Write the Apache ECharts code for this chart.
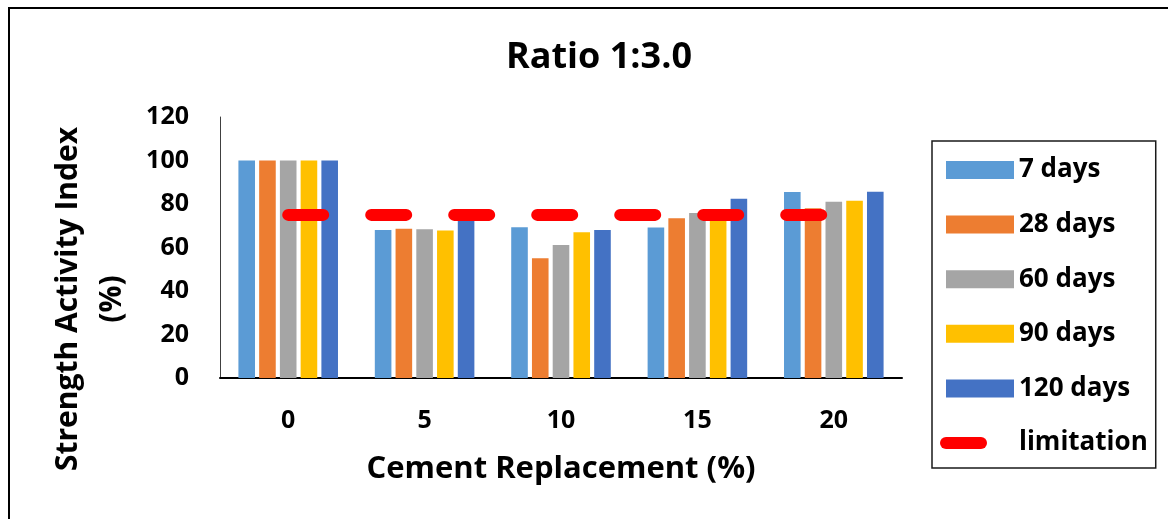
<!DOCTYPE html>
<html>
<head>
<meta charset="utf-8">
<title>Ratio 1:3.0</title>
<script src="https://cdn.jsdelivr.net/npm/echarts@6/dist/echarts.min.js"></script>
<style>
  html, body { margin: 0; padding: 0; background: #fff; }
  #chart { width: 1168px; height: 519px; }
</style>
</head>
<body>
<div id="chart"></div>
<script>
// Cement replacement levels (%)
const categories = ['0', '5', '10', '15', '20'];

// Strength activity index (%) by curing age
const days7   = [100, 68.1, 69.3, 69.2, 85.5];
const days28  = [100, 68.6, 55.1, 73.5, 78.1];
const days60  = [100, 68.4, 61.2, 75.9, 81.0];
const days90  = [100, 67.8, 67.0, 76.0, 81.5];
const days120 = [100, 75.0, 68.1, 82.4, 85.6];

// Minimum acceptable index
const limitation = [75, 75, 75, 75, 75];

const yTicks = { min: 0, max: 120, interval: 20 };

const FONT = '"Open Sans", "Noto Sans", sans-serif';

const barSeries = [
  { name: '7 days',   data: days7,   color: '#5B9BD5' },
  { name: '28 days',  data: days28,  color: '#ED7D31' },
  { name: '60 days',  data: days60,  color: '#A5A5A5' },
  { name: '90 days',  data: days90,  color: '#FFC000' },
  { name: '120 days', data: days120, color: '#4472C4' }
];

const chart = echarts.init(document.getElementById('chart'), null, { renderer: 'canvas' });

const series = barSeries.map(s => ({
  name: s.name,
  type: 'bar',
  data: s.data,
  barGap: '25%',
  barCategoryGap: '27%',
  itemStyle: { color: s.color },
  emphasis: { disabled: true }
}));

series.push({
  name: 'limitation',
  type: 'line',
  data: limitation,
  symbol: 'none',
  z: 5,
  itemStyle: { color: '#FF0000' },
  lineStyle: { color: '#FF0000', width: 12, type: [35, 48], cap: 'round' },
  emphasis: { disabled: true }
});

chart.setOption({
  animation: false,
  backgroundColor: '#ffffff',
  textStyle: { fontFamily: FONT },
  title: {
    text: 'Ratio 1:3.0',
    left: 594,
    top: 35,
    textAlign: 'center',
    textStyle: { fontFamily: FONT, fontWeight: 'bold', fontSize: 36, color: '#000' }
  },
  legend: {
    orient: 'vertical',
    left: 932,
    top: 141,
    padding: [16, 8, 12, 8],
    itemWidth: 68,
    itemHeight: 18,
    itemGap: 28.6,
    borderColor: '#1a1a1a',
    borderWidth: 1.5,
    lineStyle: { width: 12 },
    textStyle: { fontFamily: FONT, fontWeight: 'bold', fontSize: 26, color: '#000' },
    data: barSeries.map(s => ({ name: s.name, icon: 'rect' })).concat([{
      name: 'limitation',
      // only the dashed stroke is shown for this entry
      itemStyle: { color: 'rgba(0,0,0,0)', borderWidth: 0, opacity: 0 }
    }])
  },
  grid: { left: 220, top: 117, right: 266, bottom: 141, containLabel: false },
  xAxis: {
    type: 'category',
    data: categories,
    name: 'Cement Replacement (%)',
    nameLocation: 'middle',
    nameGap: 76,
    nameTextStyle: { fontFamily: FONT, fontWeight: 'bold', fontSize: 31, color: '#000' },
    axisLine: { show: true, lineStyle: { color: '#000', width: 2 } },
    axisTick: { show: false },
    axisLabel: { margin: 30, fontFamily: FONT, fontWeight: 'bold', fontSize: 25, color: '#000' },
    splitLine: { show: false }
  },
  yAxis: {
    type: 'value',
    min: yTicks.min,
    max: yTicks.max,
    interval: yTicks.interval,
    axisLine: { show: true, lineStyle: { color: '#404040', width: 1 } },
    axisTick: { show: false },
    axisLabel: { margin: 31, fontFamily: FONT, fontWeight: 'bold', fontSize: 25, color: '#000' },
    splitLine: { show: false }
  },
  graphic: [
    // frame along the top and left edges
    { type: 'line', shape: { x1: 8, y1: 8, x2: 1168, y2: 8 }, style: { stroke: '#000', lineWidth: 2 }, silent: true },
    { type: 'line', shape: { x1: 9, y1: 8, x2: 9, y2: 519 }, style: { stroke: '#000', lineWidth: 2 }, silent: true },
    // y axis title
    {
      type: 'text',
      x: 90,
      y: 299,
      rotation: Math.PI / 2,
      silent: true,
      style: {
        text: 'Strength Activity Index\n(%)',
        fontFamily: FONT,
        fontWeight: 'bold',
        fontSize: 30,
        lineHeight: 44,
        fill: '#000',
        align: 'center',
        verticalAlign: 'middle'
      }
    }
  ],
  series: series
});
</script>
</body>
</html>
